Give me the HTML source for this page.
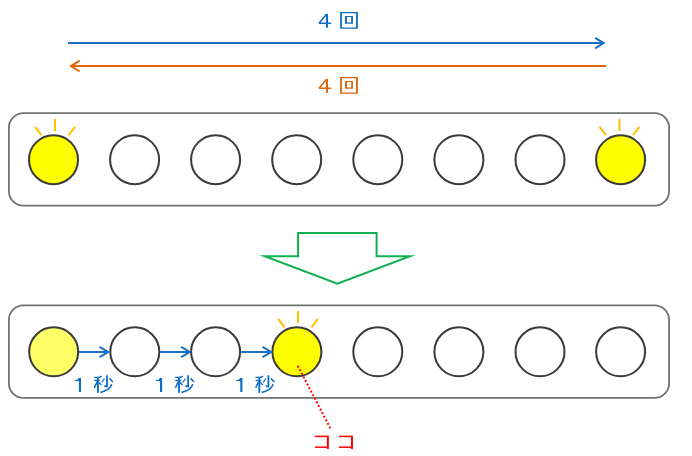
<!DOCTYPE html>
<html>
<head>
<meta charset="utf-8">
<style>
html,body{margin:0;padding:0;background:#ffffff;}
body{width:692px;height:456px;overflow:hidden;font-family:"Liberation Sans",sans-serif;}
svg{display:block;}
</style>
</head>
<body>
<svg width="692" height="456" viewBox="0 0 692 456">
<defs>
  <!-- glyph: "4 回" drawn relative to (0,0)= top-left of '4' box -->
  <g id="yon-kai" stroke-linecap="butt" stroke-linejoin="miter">
    <path d="M9.1,0 L9.1,13.9" stroke-width="2.1" fill="none" stroke="currentColor"/>
    <path d="M8.4,0.5 L1.1,9.4 L13.2,9.4" stroke-width="1.5" stroke-linejoin="bevel" fill="none" stroke="currentColor"/>
    <path fill="currentColor" fill-rule="evenodd" stroke="none" d="M22.2,-1.95 H39.95 V14.9 H22.2 Z M24,-0.65 V13.7 H38.1 V-0.65 Z M27.05,2 H35.05 V9.9 H27.05 Z M29.05,3.15 V8.7 H33.25 V3.15 Z"/>
  </g>
  <!-- glyph: "1 秒" relative to stem of 1 at x=0 ; y absolute offsets from 378 -->
  <g id="ichi-byo" fill="none" stroke="#0f6fc4" stroke-linecap="butt" stroke-linejoin="miter">
    <path d="M0.05,0 L0.05,14.1" stroke-width="2.2"/><path d="M-5.1,2 L-2.6,1.9 L-1.1,0.2 L0,0 L0,3 L-5.1,3 Z" fill="#0f6fc4" stroke="none"/>
    <!-- 禾 -->
    <path d="M21.8,-1.7 Q20,-0.6 18.5,-0.5 L14.2,-0.5" stroke-width="1.4"/>
    <path d="M14.2,2.5 L20.1,2.5" stroke-width="1.3"/>
    <path d="M18,-0.6 L18,14.9" stroke-width="1.9"/>
    <path d="M17.6,3.3 L14.4,9.9" stroke-width="1.5"/>
    <path d="M18.9,4.4 L21.5,7.2" stroke-width="1.4"/>
    <!-- 少 -->
    <path d="M27.1,-2.6 L27.1,8.5 L24.4,8.2" stroke-width="1.8"/>
    <path d="M24.6,0.6 L21.8,4.6" stroke-width="1.3"/>
    <path d="M29.6,0.4 L32.9,4.2" stroke-width="1.6"/>
    <path d="M31.8,6.3 C31,10 26.5,13 20.4,14.6" stroke-width="1.6"/>
  </g>
  <g id="rays" fill="none" stroke="#ffc000" stroke-width="2" stroke-linecap="butt">
    <path d="M0,-40.9 L0,-28.9"/>
    <path d="M-20,-33 L-13.5,-24.6"/>
    <path d="M20,-33 L13.5,-24.6"/>
  </g>
  <g id="ko" fill="none" stroke="#ff0000">
    <path d="M0,0.75 L13,0.75" stroke-width="1.5"/>
    <path d="M0,11.55 L13,11.55" stroke-width="1.5"/>
    <path d="M13.05,0 L13.05,13.4" stroke-width="2"/>
  </g>
</defs>

<rect x="0" y="0" width="692" height="456" fill="#ffffff"/>

<!-- top arrows -->
<g fill="none" stroke="#1a6fc4" stroke-width="2">
  <path d="M68,43.1 L603,43.1"/>
  <path d="M595.2,37.9 L603.6,43.1 L595.2,48.3" stroke-width="2"/>
</g>
<g fill="none" stroke="#e0660c" stroke-width="2">
  <path d="M71.5,66.1 L606,66.1"/>
  <path d="M79.6,60.7 L71,66.1 L79.6,71.5" stroke-width="2"/>
</g>
<use href="#yon-kai" x="317.9" y="13.9" color="#0f6fc4"/>
<use href="#yon-kai" x="317.9" y="78.9" color="#e0660c"/>

<!-- box 1 -->
<rect x="8.9" y="113.2" width="660.2" height="92.5" rx="14.5" ry="14.5" fill="#ffffff" stroke="#727272" stroke-width="1.8"/>
<g stroke="#3a3a3e" stroke-width="2" fill="#ffffff">
  <circle cx="53.5" cy="159.7" r="24.5" fill="#ffff00"/>
  <circle cx="134.6" cy="159.7" r="24.5"/>
  <circle cx="215.6" cy="159.7" r="24.5"/>
  <circle cx="296.7" cy="159.7" r="24.5"/>
  <circle cx="377.8" cy="159.7" r="24.5"/>
  <circle cx="458.9" cy="159.7" r="24.5"/>
  <circle cx="540" cy="159.7" r="24.5"/>
  <circle cx="620.6" cy="159.7" r="24.5" fill="#ffff00"/>
</g>
<use href="#rays" x="55" y="159.8"/>
<use href="#rays" x="619.5" y="159.8"/>

<!-- green block arrow -->
<path d="M298.1,233 L376.6,233 L376.6,256.2 L410,256.2 L337.4,283.8 L264.8,256.2 L298.1,256.2 Z" fill="#ffffff" stroke="#0fb050" stroke-width="2" stroke-miterlimit="12" stroke-linejoin="miter"/>

<!-- box 2 -->
<rect x="8.9" y="305.4" width="660.2" height="92.5" rx="14.5" ry="14.5" fill="#ffffff" stroke="#727272" stroke-width="1.8"/>
<g stroke="#3a3a3e" stroke-width="2" fill="#ffffff">
  <circle cx="53.7" cy="351.8" r="24.5" fill="#ffff66"/>
  <circle cx="134.8" cy="351.8" r="24.5"/>
  <circle cx="215.6" cy="351.8" r="24.5"/>
  <circle cx="296.9" cy="351.8" r="24.5" fill="#ffff00"/>
  <circle cx="377.8" cy="351.8" r="24.5"/>
  <circle cx="458.9" cy="351.8" r="24.5"/>
  <circle cx="540" cy="351.8" r="24.5"/>
  <circle cx="620.6" cy="351.8" r="24.5"/>
</g>
<use href="#rays" x="298" y="351.9"/>

<!-- small arrows -->
<g fill="none" stroke="#1a6fc4" stroke-width="2">
  <path d="M79,352 L107.6,352 M99.5,346.9 L108.2,352 L99.5,357.1"/>
  <path d="M160.2,352 L189.2,352 M181.1,346.9 L189.8,352 L181.1,357.1"/>
  <path d="M241.2,352 L270.6,352 M262.5,346.9 L271.2,352 L262.5,357.1"/>
</g>
<use href="#ichi-byo" x="79.9" y="377.9"/>
<use href="#ichi-byo" x="161" y="377.9"/>
<use href="#ichi-byo" x="241.3" y="377.9"/>

<!-- red dotted -->
<path d="M297.74,365.71 L330.36,428.39" fill="none" stroke="#ff0000" stroke-width="2" stroke-dasharray="2 2.039"/>
<use href="#ko" x="314.8" y="435.65"/>
<use href="#ko" x="338.9" y="435.65"/>
</svg>
</body>
</html>
